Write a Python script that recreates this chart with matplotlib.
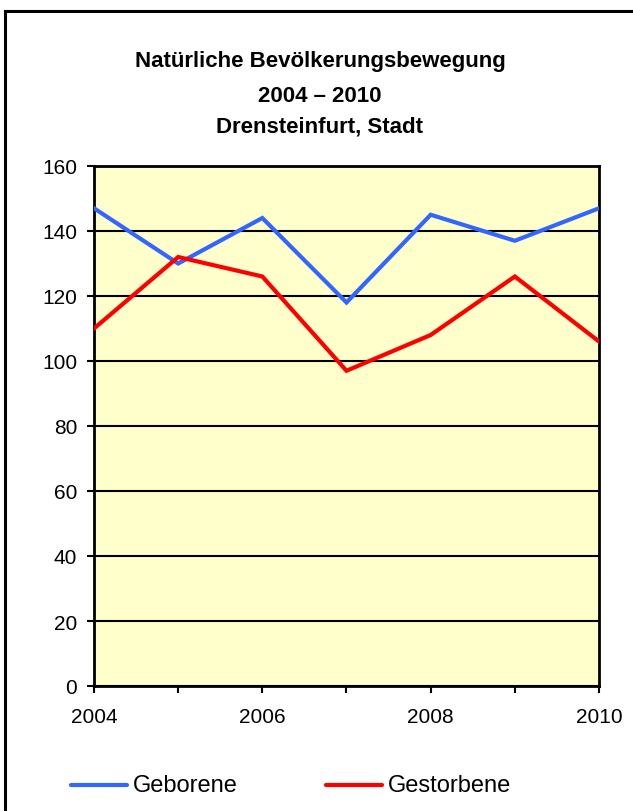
import matplotlib
matplotlib.use("Agg")
import matplotlib.pyplot as plt
from matplotlib.patches import Rectangle
from matplotlib.lines import Line2D

years = [2004, 2005, 2006, 2007, 2008, 2009, 2010]
geborene = [147, 130, 144, 118, 145, 137, 147]
gestorbene = [110, 132, 126, 97, 108, 126, 106]
series_labels = ["Geborene", "Gestorbene"]
title_lines = ["Natürliche Bevölkerungsbewegung", "2004 – 2010", "Drensteinfurt, Stadt"]
yticks = [0, 20, 40, 60, 80, 100, 120, 140, 160]
xlabels = [2004, 2006, 2008, 2010]

plt.rcParams['font.family'] = ['Liberation Sans', 'DejaVu Sans']

W, H = 633, 812
fig = plt.figure(figsize=(W / 100, H / 100), dpi=100)
fig.patch.set_facecolor("white")

# outer frame
fig.patches.append(Rectangle((5 / W, -0.01), 1, 1.01 - 12 / H, transform=fig.transFigure,
                             fill=False, edgecolor="black", linewidth=2.2, clip_on=False))

ax = fig.add_axes([94 / W, 1 - 687 / H, (599 - 94) / W, (687 - 167) / H])
ax.set_facecolor("#FFFFCC")

c_blue = "#3366FF"
c_red = "#FF0000"
ax.plot(years, geborene, color=c_blue, linewidth=3.0, solid_joinstyle="miter", zorder=3)
ax.plot(years, gestorbene, color=c_red, linewidth=3.0, solid_joinstyle="miter", zorder=3)

ax.set_xlim(2004, 2010)
ax.set_ylim(0, 160)
ax.set_yticks(yticks)
ax.set_xticks(years)
ax.set_xticklabels([str(y) if y in xlabels else "" for y in years])
ax.yaxis.grid(True, color="black", linewidth=1.5)
ax.set_axisbelow(True)
for s in ax.spines.values():
    s.set_linewidth(2)
    s.set_color("black")
ax.tick_params(axis="both", direction="out", length=5, width=1.5, labelsize=15, colors="black")
ax.tick_params(axis="y", pad=7)
ax.tick_params(axis="x", pad=10)

ys = [62, 96, 127]
for t, y in zip(title_lines, ys):
    fig.text(320 / W, 1 - y / H, t, ha="center", va="center", fontsize=16, fontweight="bold")

# legend
ly = 1 - 786 / H
fig.add_artist(Line2D([71 / W, 127 / W], [ly, ly], color=c_blue, linewidth=3.0,
                      transform=fig.transFigure, solid_capstyle="round"))
fig.text(133 / W, ly, series_labels[0], ha="left", va="center", fontsize=17)
fig.add_artist(Line2D([326 / W, 382 / W], [ly, ly], color=c_red, linewidth=3.0,
                      transform=fig.transFigure, solid_capstyle="round"))
fig.text(388 / W, ly, series_labels[1], ha="left", va="center", fontsize=17)

fig.savefig("out.png", dpi=100)
